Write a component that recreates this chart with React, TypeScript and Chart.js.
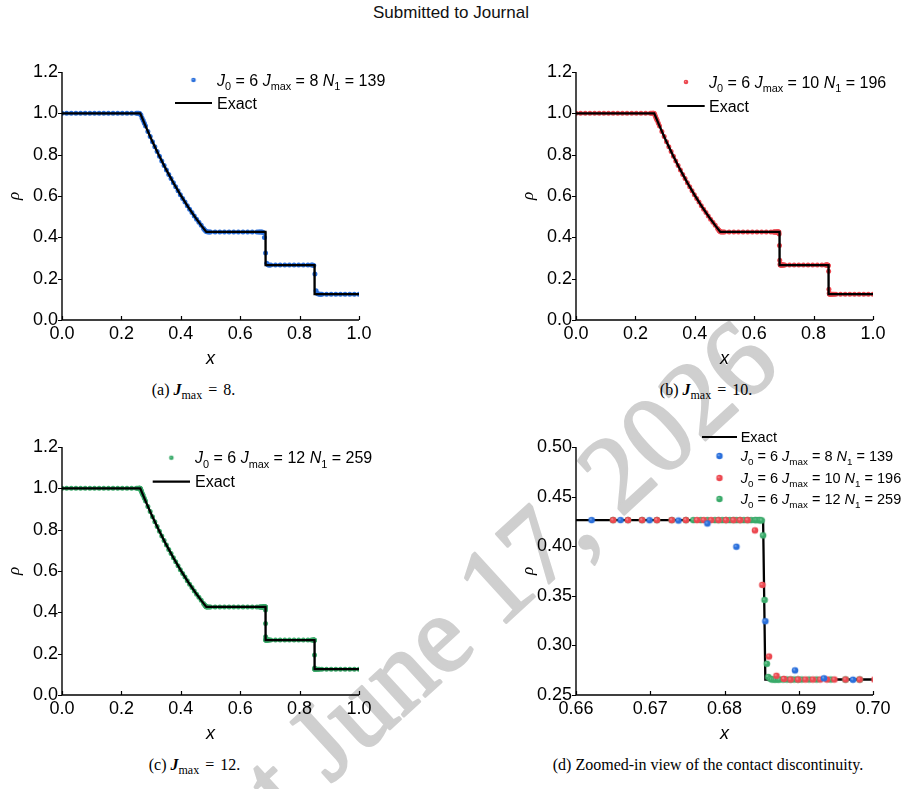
import React, { useEffect, useRef } from "react";
import { Chart, registerables } from "chart.js";

Chart.register(...registerables);

const SANS = '"Liberation Sans", Arial, Helvetica, sans-serif';
const SERIF = '"Liberation Serif", "Times New Roman", Times, serif';

// ---------------------------------------------------------------------------
// Data: Sod shock tube, density at t = 0.2
// ---------------------------------------------------------------------------
const J0 = 6;
const J_MAX = [8, 10, 12];
const N1 = [139, 196, 259];

// Exact Riemann solution (piecewise profile)
const EXACT_X = [0, 0.2634, 0.28, 0.3, 0.325, 0.35, 0.375, 0.4, 0.425, 0.45, 0.47, 0.4859, 0.6852, 0.6855, 0.8502, 0.8505, 1.0];
const EXACT_RHO = [1, 1, 0.9427, 0.8775, 0.801, 0.7299, 0.664, 0.603, 0.5464, 0.4943, 0.4555, 0.4263, 0.4263, 0.2656, 0.2656, 0.125, 0.125];

// Coarse-level points shared by every run (smooth regions)
const BASE_X = [
  0, 0.0156, 0.0313, 0.0469, 0.0625, 0.0781, 0.0938, 0.1094, 0.125, 0.1406, 0.1563, 0.1719, 0.1875, 0.2031, 0.2188, 0.2344,
  0.2813, 0.2891, 0.2969, 0.3047, 0.3125, 0.3203, 0.3281, 0.3359, 0.3438, 0.3516, 0.3594, 0.3672, 0.375, 0.3828, 0.3906,
  0.3984, 0.4063, 0.4141, 0.4219, 0.4297, 0.4375, 0.4453, 0.4531, 0.4609, 0.4688,
  0.5, 0.5156, 0.5313, 0.5469, 0.5625, 0.5781, 0.5938, 0.6094, 0.625, 0.6406, 0.6563,
  0.7031, 0.7188, 0.7344, 0.75, 0.7656, 0.7813, 0.7969, 0.8125, 0.8281,
  0.875, 0.8906, 0.9063, 0.9219, 0.9375, 0.9531, 0.9688, 0.9844, 1,
];
const BASE_RHO = [
  1, 1, 1, 1, 1, 1, 1, 1, 1, 1, 1, 1, 1, 1, 1, 1,
  0.9386, 0.9127, 0.8874, 0.8627, 0.8385, 0.8149, 0.7918, 0.7693, 0.7472, 0.7257, 0.7046, 0.6841, 0.6641, 0.6444, 0.6253,
  0.6066, 0.5884, 0.5706, 0.5533, 0.5363, 0.5199, 0.5037, 0.4881, 0.4727, 0.4579,
  0.4263, 0.4263, 0.4263, 0.4263, 0.4263, 0.4263, 0.4263, 0.4263, 0.4263, 0.4263, 0.4263,
  0.2656, 0.2656, 0.2656, 0.2656, 0.2656, 0.2656, 0.2656, 0.2656, 0.2656,
  0.125, 0.125, 0.125, 0.125, 0.125, 0.125, 0.125, 0.125, 0.125,
];

// Refined points, Jmax = 8
const J8_X = [
  0.25, 0.2539, 0.2578, 0.2617, 0.2656, 0.2695, 0.2734, 0.2773,
  0.4766, 0.4805, 0.4844, 0.4883, 0.4922, 0.4961,
  0.6621, 0.666, 0.6699, 0.6738, 0.6777, 0.6816, 0.6855, 0.6895, 0.6934, 0.6973,
  0.8398, 0.8438, 0.8477, 0.8516, 0.8555, 0.8594, 0.8633, 0.8672, 0.8711,
];
const J8_RHO = [
  1, 1, 1, 0.9995, 0.992, 0.978, 0.965, 0.952,
  0.4433, 0.435, 0.4295, 0.4265, 0.4263, 0.4263,
  0.4263, 0.4263, 0.4262, 0.4259, 0.4229, 0.3995, 0.3244, 0.2748, 0.2668, 0.2654,
  0.2656, 0.2656, 0.2638, 0.2225, 0.142, 0.1285, 0.1258, 0.125, 0.125,
];

// Refined points, Jmax = 10
const J10_X = [
  0.25, 0.2539, 0.2578, 0.2598, 0.2617, 0.2637, 0.2656, 0.2676, 0.2695, 0.2715, 0.2734, 0.2773,
  0.4766, 0.4805, 0.4824, 0.4844, 0.4863, 0.4883, 0.4922, 0.4961,
  0.665, 0.667, 0.6689, 0.6709, 0.6729, 0.6748, 0.6763, 0.6772, 0.6782, 0.6792, 0.6802, 0.6812, 0.6821, 0.6831,
  0.6841, 0.6851, 0.686, 0.687, 0.688,
  0.6889, 0.6899, 0.6909, 0.6919, 0.6929, 0.6938, 0.6948, 0.6963, 0.6982, 0.7002,
  0.8398, 0.8418, 0.8438, 0.8457, 0.8467, 0.8477, 0.8486, 0.8496, 0.8506, 0.8516, 0.8525, 0.8535, 0.8545,
  0.8564, 0.8584, 0.8613, 0.8652, 0.8691,
];
const J10_RHO = [
  1, 1, 1, 1, 1, 0.9989, 0.992, 0.9852, 0.978, 0.9717, 0.965, 0.952,
  0.4433, 0.435, 0.432, 0.4295, 0.4268, 0.4263, 0.4263, 0.4263,
  0.4263, 0.4263, 0.4263, 0.4263, 0.4263, 0.4263, 0.4263, 0.4263, 0.4263, 0.4263, 0.4263, 0.4263, 0.4263, 0.4263,
  0.4159, 0.361, 0.2888, 0.2694, 0.2662,
  0.2656, 0.2656, 0.2656, 0.2656, 0.2656, 0.2656, 0.2656, 0.2656, 0.2656, 0.2656,
  0.2656, 0.2656, 0.2656, 0.2656, 0.2656, 0.2655, 0.265, 0.262, 0.2356, 0.1485, 0.13, 0.1262, 0.1252,
  0.125, 0.125, 0.125, 0.125, 0.125,
];

// Refined points, Jmax = 12
const J12_X = [
  0.25, 0.2539, 0.2578, 0.2598, 0.2607, 0.2617, 0.2627, 0.2637, 0.2646, 0.2656, 0.2666, 0.2676, 0.2695, 0.2715, 0.2734, 0.2773,
  0.4766, 0.4805, 0.4824, 0.4844, 0.4854, 0.4863, 0.4873, 0.4883, 0.4922, 0.4961,
  0.665, 0.667, 0.6689, 0.6709, 0.6729, 0.6748, 0.6758, 0.6768, 0.6777, 0.6787, 0.6792, 0.6797, 0.6802, 0.6807, 0.6812,
  0.6816, 0.6821, 0.6826, 0.6831, 0.6836, 0.6841, 0.6843, 0.6846, 0.6848, 0.685,
  0.6852, 0.6854, 0.6857, 0.6859, 0.6862,
  0.6864, 0.6867, 0.6869, 0.6872, 0.6874, 0.6879, 0.6884, 0.6889, 0.6894, 0.6899, 0.6904, 0.6914, 0.6924, 0.6943, 0.6963, 0.6982,
  0.8398, 0.8438, 0.8457, 0.8477, 0.8486, 0.8491, 0.8496, 0.8501, 0.8503, 0.8506, 0.8508, 0.8511, 0.8516, 0.8525,
  0.8545, 0.8564, 0.8594, 0.8633, 0.8672,
];
const J12_RHO = [
  1, 1, 1, 1, 1, 1, 1, 0.9989, 0.9956, 0.9921, 0.9886, 0.9852, 0.978, 0.9717, 0.965, 0.952,
  0.4433, 0.435, 0.432, 0.4295, 0.4279, 0.4268, 0.4264, 0.4263, 0.4263, 0.4263,
  0.4263, 0.4263, 0.4263, 0.4263, 0.4263, 0.4263, 0.4263, 0.4263, 0.4263, 0.4263, 0.4263, 0.4263, 0.4263, 0.4263, 0.4263,
  0.4263, 0.4263, 0.4263, 0.4263, 0.4263, 0.4263, 0.4263, 0.4263, 0.4262, 0.426,
  0.4109, 0.3458, 0.2815, 0.2681, 0.2662,
  0.2656, 0.2656, 0.2656, 0.2656, 0.2656, 0.2656, 0.2656, 0.2656, 0.2656, 0.2656, 0.2656, 0.2656, 0.2656, 0.2656, 0.2656, 0.2656,
  0.2656, 0.2656, 0.2656, 0.2656, 0.2656, 0.2656, 0.2655, 0.2645, 0.193, 0.131, 0.1262, 0.1252, 0.125, 0.125,
  0.125, 0.125, 0.125, 0.125, 0.125,
];

// Axis ticks
const FULL_X_TICKS = [0, 0.2, 0.4, 0.6, 0.8, 1.0];
const FULL_X_LABELS = ["0.0", "0.2", "0.4", "0.6", "0.8", "1.0"];
const FULL_Y_TICKS = [0, 0.2, 0.4, 0.6, 0.8, 1.0, 1.2];
const FULL_Y_LABELS = ["0.0", "0.2", "0.4", "0.6", "0.8", "1.0", "1.2"];
const ZOOM_X_TICKS = [0.66, 0.67, 0.68, 0.69, 0.7];
const ZOOM_X_LABELS = ["0.66", "0.67", "0.68", "0.69", "0.70"];
const ZOOM_Y_TICKS = [0.25, 0.3, 0.35, 0.4, 0.45, 0.5];
const ZOOM_Y_LABELS = ["0.25", "0.30", "0.35", "0.40", "0.45", "0.50"];

const COLORS = ["#2a6fdb", "#ec4850", "#3aaa6a"];
const HIGHLIGHTS = ["#9cc0f5", "#f8aaae", "#a2dcb9"];

// ---------------------------------------------------------------------------
const pts = (xs: number[], ys: number[]) => xs.map((x, i) => ({ x, y: ys[i] }));

const SERIES = [
  pts(BASE_X, BASE_RHO).concat(pts(J8_X, J8_RHO)),
  pts(BASE_X, BASE_RHO).concat(pts(J10_X, J10_RHO)),
  pts(BASE_X, BASE_RHO).concat(pts(J12_X, J12_RHO)),
];
const EXACT = pts(EXACT_X, EXACT_RHO);

type Seg = { t: string; it?: boolean; sub?: boolean };
type Row = { kind: "line" | "dot"; series?: number; y: number; segs: Seg[] };

const runLabel = (i: number): Seg[] => [
  { t: "J", it: true },
  { t: "0", sub: true },
  { t: ` = ${J0} ` },
  { t: "J", it: true },
  { t: "max", sub: true },
  { t: ` = ${J_MAX[i]} ` },
  { t: "N", it: true },
  { t: "1", sub: true },
  { t: ` = ${N1[i]}` },
];

type PanelSpec = {
  left: number;
  top: number;
  w: number;
  h: number;
  padRight: number;
  xMin: number;
  xMax: number;
  yMin: number;
  yMax: number;
  xTicks: number[];
  xLabels: string[];
  yTicks: number[];
  yLabels: string[];
  series: number[];
  dotR: number;
  legendDotR: number;
  dotsOnTop: boolean;
  legend: { h0: number; h1: number; textX: number; fs: number; rows: Row[] };
};

function makeDot(base: string, hi: string, r: number) {
  const s = Math.ceil(r * 2 + 2) + (Math.ceil(r * 2 + 2) % 2);
  const c = document.createElement("canvas");
  c.width = s;
  c.height = s;
  const g = c.getContext("2d")!;
  const cx = s / 2;
  const grad = g.createRadialGradient(cx - r * 0.35, cx - r * 0.35, 0, cx, cx, r);
  grad.addColorStop(0, hi);
  grad.addColorStop(0.45, base);
  grad.addColorStop(1, base);
  g.fillStyle = grad;
  g.beginPath();
  g.arc(cx, cx, r, 0, Math.PI * 2);
  g.fill();
  return c;
}

function buildConfig(spec: PanelSpec): any {
  const dotImgs = spec.series.map((s) => makeDot(COLORS[s], HIGHLIGHTS[s], spec.dotR));
  const dotSets = spec.series.map((s, k) => ({
    label: `J0=${J0} Jmax=${J_MAX[s]} N1=${N1[s]}`,
    data: SERIES[s],
    showLine: false,
    pointStyle: spec.dotR > 2.8 ? dotImgs[k] : "circle",
    pointRadius: spec.dotR,
    pointHoverRadius: spec.dotR,
    pointBackgroundColor: COLORS[s],
    pointBorderWidth: 0,
  }));
  const exactSet = {
    label: "Exact",
    data: EXACT,
    showLine: true,
    borderColor: "#000",
    borderWidth: 2.3,
    borderJoinStyle: "miter",
    pointRadius: 0,
    pointHoverRadius: 0,
    tension: 0,
    clip: 0,
  };
  const datasets = spec.dotsOnTop ? [...dotSets, exactSet] : [exactSet, ...dotSets];

  const axesPlugin = {
    id: "axesAndTicks",
    afterDraw(chart: any) {
      const { ctx, chartArea, scales } = chart;
      const { left, right, top, bottom } = chartArea;
      ctx.save();
      ctx.strokeStyle = "#000";
      ctx.lineWidth = 1.4;
      ctx.beginPath();
      ctx.moveTo(left, top);
      ctx.lineTo(left, bottom);
      ctx.lineTo(right, bottom);
      ctx.stroke();
      ctx.lineWidth = 1.2;
      ctx.beginPath();
      for (const v of spec.xTicks) {
        const px = Math.round(scales.x.getPixelForValue(v)) + 0.5;
        ctx.moveTo(px, bottom);
        ctx.lineTo(px, bottom - 4);
      }
      for (const v of spec.yTicks) {
        const py = Math.round(scales.y.getPixelForValue(v)) + 0.5;
        ctx.moveTo(left - 4, py);
        ctx.lineTo(left, py);
      }
      ctx.stroke();
      ctx.restore();
    },
  };

  const lg = spec.legend;
  const legendPlugin = {
    id: "richLegend",
    afterDraw(chart: any) {
      const { ctx, chartArea } = chart;
      const ox = chartArea.left;
      const oy = chartArea.top;
      ctx.save();
      for (const row of lg.rows) {
        const y = oy + row.y;
        const hc = ox + (lg.h0 + lg.h1) / 2;
        if (row.kind === "line") {
          ctx.strokeStyle = "#000";
          ctx.lineWidth = 2.2;
          ctx.beginPath();
          ctx.moveTo(ox + lg.h0, y);
          ctx.lineTo(ox + lg.h1, y);
          ctx.stroke();
        } else {
          const s = row.series as number;
          const img = makeDot(COLORS[s], HIGHLIGHTS[s], spec.legendDotR);
          ctx.drawImage(img, hc - img.width / 2, y - img.height / 2);
        }
        let x = ox + lg.textX;
        const base = y + lg.fs * 0.36;
        ctx.fillStyle = "#000";
        ctx.textBaseline = "alphabetic";
        ctx.textAlign = "left";
        for (const sg of row.segs) {
          const size = sg.sub ? lg.fs * 0.68 : lg.fs;
          ctx.font = `${sg.it ? "italic " : ""}${size}px ${SANS}`;
          ctx.fillText(sg.t, x, sg.sub ? base + lg.fs * 0.26 : base);
          x += ctx.measureText(sg.t).width;
        }
      }
      ctx.restore();
    },
  };

  return {
    type: "scatter",
    data: { datasets },
    plugins: [axesPlugin, legendPlugin],
    options: {
      responsive: false,
      animation: false,
      events: [],
      devicePixelRatio: 1,
      layout: { padding: { left: 0, top: 32, right: spec.padRight, bottom: 0 } },
      plugins: { legend: { display: false }, tooltip: { enabled: false } },
      scales: {
        x: {
          type: "linear",
          min: spec.xMin,
          max: spec.xMax,
          grid: { display: false, drawTicks: false },
          border: { display: false },
          afterBuildTicks: (s: any) => {
            s.ticks = spec.xTicks.map((v) => ({ value: v }));
          },
          afterFit: (s: any) => {
            s.height = 55;
          },
          ticks: {
            callback: (_v: any, i: number) => spec.xLabels[i],
            font: { family: SANS, size: 18 },
            color: "#000",
            padding: 3,
            maxRotation: 0,
            autoSkip: false,
          },
          title: {
            display: true,
            text: "x",
            color: "#000",
            font: { family: SANS, size: 18, style: "italic" },
            padding: { top: 0, bottom: 5.5 },
          },
        },
        y: {
          type: "linear",
          min: spec.yMin,
          max: spec.yMax,
          grid: { display: false, drawTicks: false },
          border: { display: false },
          afterBuildTicks: (s: any) => {
            s.ticks = spec.yTicks.map((v) => ({ value: v }));
          },
          afterFit: (s: any) => {
            s.width = 62;
          },
          ticks: {
            callback: (_v: any, i: number) => spec.yLabels[i],
            font: { family: SANS, size: 18 },
            color: "#000",
            padding: 4,
            autoSkip: false,
          },
          title: {
            display: true,
            text: "ρ",
            color: "#000",
            font: { family: SERIF, size: 17, style: "italic" },
            padding: { top: 4, bottom: 0 },
          },
        },
      },
    },
  };
}

const fullAxes = {
  xMin: 0,
  xMax: 1,
  yMin: 0,
  yMax: 1.2,
  xTicks: FULL_X_TICKS,
  xLabels: FULL_X_LABELS,
  yTicks: FULL_Y_TICKS,
  yLabels: FULL_Y_LABELS,
  dotR: 2.5,
  legendDotR: 2.3,
  dotsOnTop: false,
};

const PANELS: PanelSpec[] = [
  {
    left: 0, top: 40, w: 454, h: 335, padRight: 95, ...fullAxes, series: [0],
    legend: {
      h0: 113, h1: 150, textX: 155, fs: 16,
      rows: [
        { kind: "dot", series: 0, y: 8, segs: runLabel(0) },
        { kind: "line", y: 31, segs: [{ t: "Exact" }] },
      ],
    },
  },
  {
    left: 514, top: 40, w: 394, h: 335, padRight: 35, ...fullAxes, series: [1],
    legend: {
      h0: 91.3, h1: 128.7, textX: 133, fs: 16,
      rows: [
        { kind: "dot", series: 1, y: 10, segs: runLabel(1) },
        { kind: "line", y: 34, segs: [{ t: "Exact" }] },
      ],
    },
  },
  {
    left: 0, top: 415, w: 454, h: 335, padRight: 95, ...fullAxes, series: [2],
    legend: {
      h0: 90.7, h1: 128, textX: 133, fs: 16,
      rows: [
        { kind: "dot", series: 2, y: 10.7, segs: runLabel(2) },
        { kind: "line", y: 34.7, segs: [{ t: "Exact" }] },
      ],
    },
  },
  {
    left: 514, top: 415, w: 394, h: 335, padRight: 35,
    xMin: 0.66, xMax: 0.7, yMin: 0.25, yMax: 0.5,
    xTicks: ZOOM_X_TICKS, xLabels: ZOOM_X_LABELS, yTicks: ZOOM_Y_TICKS, yLabels: ZOOM_Y_LABELS,
    series: [0, 1, 2], dotR: 3.3, legendDotR: 3.2, dotsOnTop: true,
    legend: {
      h0: 126, h1: 161, textX: 164.7, fs: 14.5,
      rows: [
        { kind: "line", y: -10, segs: [{ t: "Exact" }] },
        { kind: "dot", series: 0, y: 9, segs: runLabel(0) },
        { kind: "dot", series: 1, y: 31, segs: runLabel(1) },
        { kind: "dot", series: 2, y: 52, segs: runLabel(2) },
      ],
    },
  },
];

function Panel({ spec }: { spec: PanelSpec }) {
  const ref = useRef<HTMLCanvasElement>(null);
  useEffect(() => {
    const chart = new Chart(ref.current as HTMLCanvasElement, buildConfig(spec));
    return () => chart.destroy();
  }, [spec]);
  return (
    <canvas
      ref={ref}
      width={spec.w}
      height={spec.h}
      style={{ position: "absolute", left: spec.left, top: spec.top, width: spec.w, height: spec.h, zIndex: 1 }}
    />
  );
}

function Caption({ cx, cy, children }: { cx: number; cy: number; children: React.ReactNode }) {
  return (
    <div
      style={{
        position: "absolute",
        left: cx - 250,
        top: cy - 10,
        width: 500,
        textAlign: "center",
        fontFamily: SERIF,
        fontSize: 16,
        lineHeight: "20px",
        color: "#000",
        whiteSpace: "nowrap",
        zIndex: 2,
      }}
    >
      {children}
    </div>
  );
}

function JmaxCaption({ tag, value }: { tag: string; value: number }) {
  return (
    <>
      ({tag}){" "}
      <b>
        <i>J</i>
      </b>
      <span style={{ fontSize: 12, position: "relative", top: 4 }}>max</span>
      <span style={{ margin: "0 6px 0 6px" }}>=</span>
      {value}.
    </>
  );
}

function Watermark() {
  return (
    <svg width={908} height={789} style={{ position: "absolute", left: 0, top: 0, zIndex: 0 }}>
      <g
        transform="translate(330 784) rotate(-42.5)"
        fontFamily={SERIF}
        fontSize={110}
        fill="#cfcfcf"
        stroke="#cfcfcf"
        strokeWidth={2.5}
        strokeLinejoin="round"
      >
        <text x={-28} y={0} textAnchor="end">
          Preprint
        </text>
        <text x={0} y={0}>
          June 17, 2026
        </text>
      </g>
    </svg>
  );
}

export default function App() {
  return (
    <div
      style={{
        position: "absolute",
        left: 0,
        top: 0,
        width: 908,
        height: 789,
        overflow: "hidden",
        background: "#fff",
      }}
    >
      <Watermark />
      <div
        style={{
          position: "absolute",
          left: 0,
          top: 3,
          width: 902,
          textAlign: "center",
          fontFamily: SANS,
          fontSize: 17,
          lineHeight: "20px",
          color: "#111",
          zIndex: 2,
        }}
      >
        Submitted to Journal
      </div>
      {PANELS.map((p, i) => (
        <Panel key={i} spec={p} />
      ))}
      <Caption cx={193.5} cy={390}>
        <JmaxCaption tag="a" value={J_MAX[0]} />
      </Caption>
      <Caption cx={706} cy={390}>
        <JmaxCaption tag="b" value={J_MAX[1]} />
      </Caption>
      <Caption cx={194.5} cy={765}>
        <JmaxCaption tag="c" value={J_MAX[2]} />
      </Caption>
      <Caption cx={708} cy={765}>
        (d) Zoomed-in view of the contact discontinuity.
      </Caption>
    </div>
  );
}
